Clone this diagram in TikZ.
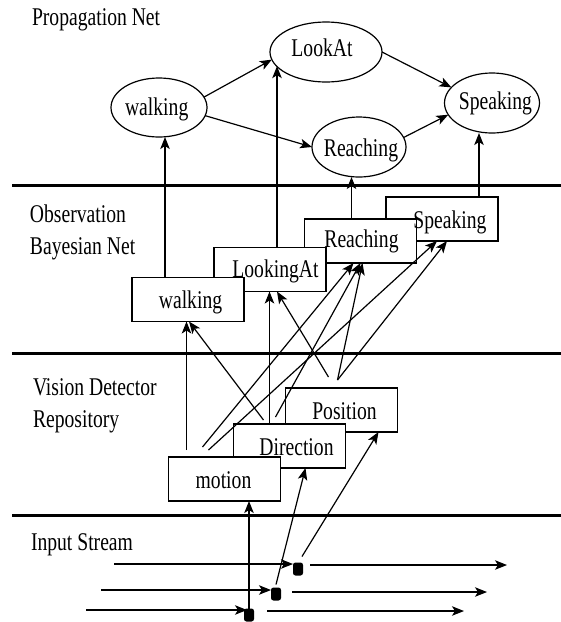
\documentclass[tikz,border=0pt]{standalone}
\usepackage{fontspec}
\setmainfont{Liberation Serif}[FakeStretch=0.77]
\usetikzlibrary{arrows.meta,shapes.geometric}
\begin{document}
\begin{tikzpicture}[x=1pt,y=-1pt,
  every node/.style={inner sep=0pt,outer sep=0pt},
  lbl/.style={anchor=base,font=\fontsize{25.5}{30}\selectfont},
  sect/.style={anchor=base west,font=\fontsize{25.5}{30}\selectfont},
  ell/.style={draw,ellipse,line width=1.2pt},
  box/.style={draw,rectangle,fill=white,line width=1.2pt,minimum width=112pt,minimum height=44pt},
  arr/.style={line width=1.2pt,-{Stealth[length=12pt,width=9.5pt,inset=3pt]}},
  sep/.style={line width=3pt},
  dot/.style={fill=black,rounded corners=2.5pt,minimum width=10pt,minimum height=13pt}
]
\useasboundingbox (0,0) rectangle (561,622);

% layer separators
\draw[sep] (12,185) -- (561,185);
\draw[sep] (12,353) -- (561,353);
\draw[sep] (12,515) -- (561,515);

% layer titles
\node[sect] (tProp) at (32,25) {Propagation Net};
\node[sect] (tObs1) at (30,222) {Observation};
\node[sect] (tObs2) at (30,254) {Bayesian Net};
\node[sect] (tVis1) at (33,395) {Vision Detector};
\node[sect] (tVis2) at (33,427) {Repository};
\node[sect] (tIn) at (31,550) {Input Stream};

% propagation net
\node[ell,minimum width=96pt,minimum height=59pt] (pW) at (159,107.5) {};
\node[ell,minimum width=112pt,minimum height=60pt] (pL) at (326,52) {};
\node[ell,minimum width=95pt,minimum height=60pt] (pS) at (492,103) {};
\node[ell,minimum width=94pt,minimum height=60pt] (pR) at (359,147) {};
\node[lbl] (pWt) at (156.7,115) {walking};
\node[lbl] (pLt) at (322,56.7) {LookAt};
\node[lbl] (pSt) at (495.5,109) {Speaking};
\node[lbl] (pRt) at (361,156) {Reaching};

\draw[arr] (pW.13) -- (pL.188);
\draw[arr] (pW.-10) -- (pR.180);
\draw[arr] (pL.0) -- (pS.159);
\draw[arr] (pR.12) -- (pS.195);

% observation bayesian net (back to front)
\node[box] (sB) at (442,219) {};
\node[box] (rB) at (360.5,241) {};
\node[box] (lB) at (270,269.5) {};
\node[box] (wB) at (188,299.5) {};
\node[lbl] (sBt) at (450,228) {Speaking};
\node[lbl] (rBt) at (361.5,247) {Reaching};
\node[lbl] (lBt) at (275.5,277) {LookingAt};
\node[lbl] (wBt) at (190.5,308) {walking};

\coordinate (wUp) at ([shift={(33,0)}]wB.north west);
\coordinate (lUp) at ([shift={(63,0)}]lB.north west);
\coordinate (rUp) at ([shift={(47,0)}]rB.north west);
\coordinate (sUp) at ([shift={(93,0)}]sB.north west);
\draw[arr] (wUp) -- (wUp |- pW.south);
\draw[arr] (lUp) -- (lUp |- pL.196.5);
\draw[arr] (rUp) -- (rUp |- pR.south);
\draw[arr] (sUp) -- (sUp |- pS.south);

% vision detector repository (back to front)
\node[box] (posB) at (341.5,410) {};
\node[box] (dirB) at (289.5,446) {};
\node[box] (motB) at (224.5,479) {};
\node[lbl] (posBt) at (344.5,419) {Position};
\node[lbl] (dirBt) at (296.5,455) {Direction};
\node[lbl] (motBt) at (223.5,488) {motion};

% detectors feeding the observation net
\coordinate (mA) at ([shift={(18,-7)}]motB.north west);
\draw[arr] (mA) -- (mA |- wB.south);
\draw[arr] ([shift={(30,-4)}]dirB.north west) -- ([shift={(57,0)}]wB.south west);
\coordinate (dA) at ([shift={(36,-1)}]dirB.north west);
\draw[arr] (dA) -- (dA |- lB.south);
\draw[arr] ([shift={(43,-11)}]posB.north west) -- ([shift={(63,0)}]lB.south west);
\draw[arr] ([shift={(34,-10)}]motB.north west) -- ([shift={(49,0)}]rB.south west);
\draw[arr] ([shift={(42,-7)}]dirB.north west) -- ([shift={(56,0)}]rB.south west);
\draw[arr] ([shift={(52,-8)}]posB.north west) -- ([shift={(58,0)}]rB.south west);
\draw[arr] ([shift={(40,-7)}]motB.north west) -- ([shift={(51,0)}]sB.south west);
\draw[arr] ([shift={(52,-8)}]posB.north west) -- ([shift={(61,0)}]sB.south west);

% input streams
\node[dot] (dT) at (298,569) {};
\node[dot] (dM) at (276,594) {};
\node[dot] (dB) at (249,615) {};

\coordinate (i1) at (114,564);
\coordinate (i2) at (101,590);
\coordinate (i3) at (86,610);
\coordinate (o1) at (507,565);
\coordinate (o2) at (487,592);
\coordinate (o3) at (464,611);

\draw[arr] (i1) -- (i1 -| dT.west);
\draw[arr] (i2) -- (i2 -| dM.west);
\draw[arr] (i3) -- ([shift={(3,0)}]i3 -| dB.west);
\draw[arr] ([shift={(7,-4)}]dT.east) -- (o1);
\draw[arr] ([shift={(11,-2)}]dM.east) -- (o2);
\draw[arr] ([shift={(13,-4)}]dB.east) -- (o3);

\draw[arr] (dB.north) -- (dB.north |- motB.south);
\draw[arr] ([shift={(0,-3)}]dM.north) -- ([shift={(72,0)}]dirB.south west);
\draw[arr] ([shift={(4,-6)}]dT.north) -- ([shift={(93,0)}]posB.south west);
\end{tikzpicture}
\end{document}
